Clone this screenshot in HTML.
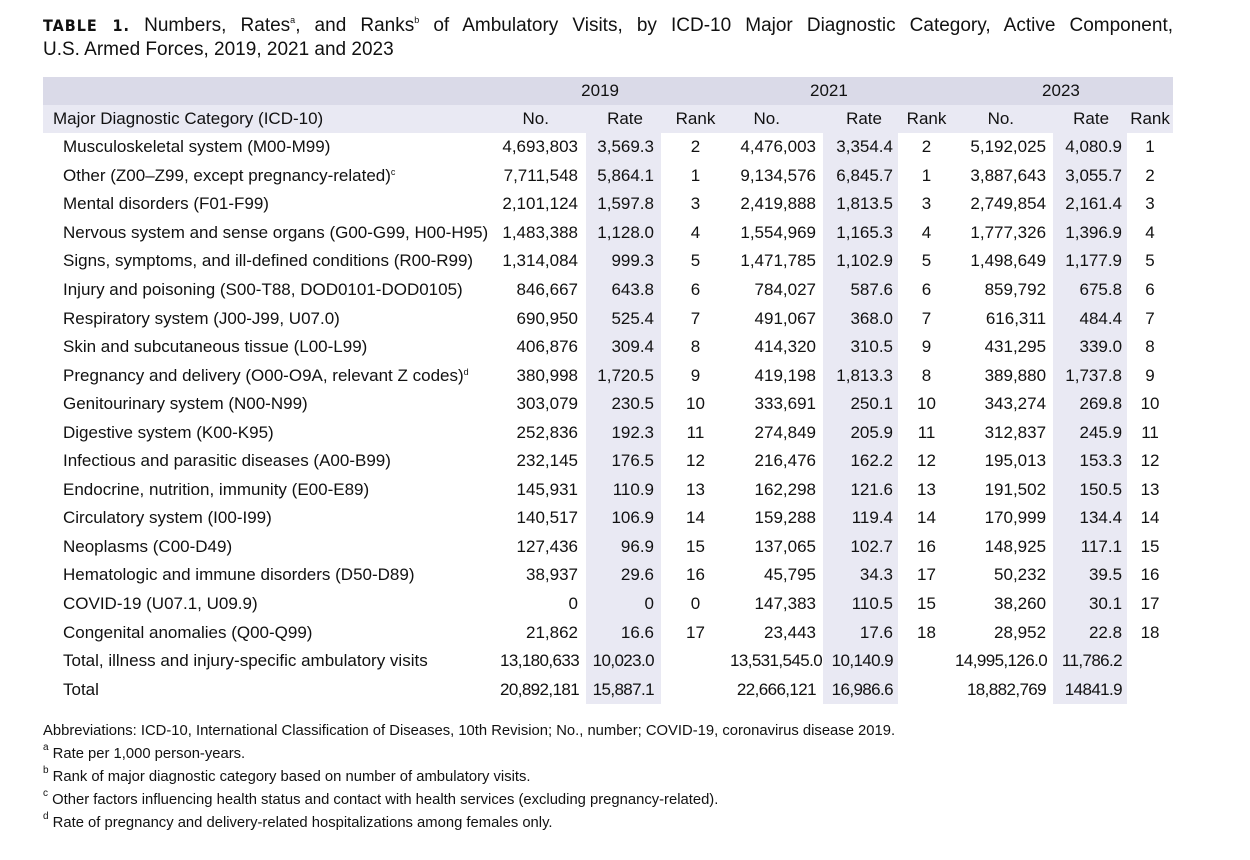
<!DOCTYPE html>
<html><head><meta charset="utf-8"><style>
body{margin:0;width:1250px;height:860px;background:#fff;font-family:"Liberation Sans",Arial,sans-serif;color:#111;position:relative;overflow:hidden}
.title{position:absolute;left:43px;top:14px;width:1130px;font-size:19px;line-height:24px}
.title .l1{text-align:justify;text-align-last:justify;white-space:nowrap}
.title b{font-family:"DejaVu Sans Condensed","Liberation Sans Narrow",sans-serif;font-weight:bold;letter-spacing:1px;font-size:16px}
sup{font-size:9px;vertical-align:top;line-height:9px;position:relative;top:2px}
table{position:absolute;left:43px;top:77px;border-collapse:collapse;table-layout:fixed;width:1130px;font-size:17px}
td{padding:0;height:28.55px;white-space:nowrap;text-align:right}
tr.h1 td{background:#dadae8;height:28px;text-align:center}
tr.h2 td{background:#e9e9f3;height:28px}
td.c{text-align:left;padding-left:20px}
tr.h2 td.c{padding-left:10px}
.r{background:#e9e9f3}
.k{text-align:center}
.n1{padding-right:8px}.r1{padding-right:7px}.n2{padding-right:7px}.r2{padding-right:5px}.n3{padding-right:7px}.r3{padding-right:5px}
tr.t td{letter-spacing:-0.6px}
tr.t td.c{letter-spacing:0}
.foot{position:absolute;left:43px;top:720px;font-size:14.8px;line-height:23px}
.foot sup{font-size:10px;top:0}
</style></head><body>
<div class="title"><div class="l1"><b>TABLE 1.</b> Numbers, Rates<sup>a</sup>, and Ranks<sup>b</sup> of Ambulatory Visits, by ICD-10 Major Diagnostic Category, Active Component,</div><div>U.S. Armed Forces, 2019, 2021 and 2023</div></div>
<table>
<colgroup><col style="width:457px"><col style="width:86px"><col style="width:75px"><col style="width:69px"><col style="width:93px"><col style="width:75px"><col style="width:57px"><col style="width:98px"><col style="width:74px"><col style="width:46px"></colgroup>
<tr class="h1"><td></td><td colspan="3" style="padding-right:111px;text-align:right">2019</td><td colspan="3" style="text-align:left;padding-left:80px">2021</td><td colspan="3" style="text-align:left;padding-left:87px">2023</td></tr>
<tr class="h2"><td class="c">Major Diagnostic Category (ICD-10)</td><td style="padding-right:37px">No.</td><td style="padding-right:18px">Rate</td><td class="k">Rank</td><td style="padding-right:43px">No.</td><td style="padding-right:16px">Rate</td><td class="k">Rank</td><td style="padding-right:39px">No.</td><td style="padding-right:18px">Rate</td><td class="k">Rank</td></tr>
<tr><td class="c">Musculoskeletal system (M00-M99)</td><td class="n1">4,693,803</td><td class="r r1">3,569.3</td><td class="k">2</td><td class="n2">4,476,003</td><td class="r r2">3,354.4</td><td class="k">2</td><td class="n3">5,192,025</td><td class="r r3">4,080.9</td><td class="k">1</td></tr>
<tr><td class="c">Other (Z00–Z99, except pregnancy-related)<sup>c</sup></td><td class="n1">7,711,548</td><td class="r r1">5,864.1</td><td class="k">1</td><td class="n2">9,134,576</td><td class="r r2">6,845.7</td><td class="k">1</td><td class="n3">3,887,643</td><td class="r r3">3,055.7</td><td class="k">2</td></tr>
<tr><td class="c">Mental disorders (F01-F99)</td><td class="n1">2,101,124</td><td class="r r1">1,597.8</td><td class="k">3</td><td class="n2">2,419,888</td><td class="r r2">1,813.5</td><td class="k">3</td><td class="n3">2,749,854</td><td class="r r3">2,161.4</td><td class="k">3</td></tr>
<tr><td class="c">Nervous system and sense organs (G00-G99, H00-H95)</td><td class="n1">1,483,388</td><td class="r r1">1,128.0</td><td class="k">4</td><td class="n2">1,554,969</td><td class="r r2">1,165.3</td><td class="k">4</td><td class="n3">1,777,326</td><td class="r r3">1,396.9</td><td class="k">4</td></tr>
<tr><td class="c">Signs, symptoms, and ill-defined conditions (R00-R99)</td><td class="n1">1,314,084</td><td class="r r1">999.3</td><td class="k">5</td><td class="n2">1,471,785</td><td class="r r2">1,102.9</td><td class="k">5</td><td class="n3">1,498,649</td><td class="r r3">1,177.9</td><td class="k">5</td></tr>
<tr><td class="c">Injury and poisoning (S00-T88, DOD0101-DOD0105)</td><td class="n1">846,667</td><td class="r r1">643.8</td><td class="k">6</td><td class="n2">784,027</td><td class="r r2">587.6</td><td class="k">6</td><td class="n3">859,792</td><td class="r r3">675.8</td><td class="k">6</td></tr>
<tr><td class="c">Respiratory system (J00-J99, U07.0)</td><td class="n1">690,950</td><td class="r r1">525.4</td><td class="k">7</td><td class="n2">491,067</td><td class="r r2">368.0</td><td class="k">7</td><td class="n3">616,311</td><td class="r r3">484.4</td><td class="k">7</td></tr>
<tr><td class="c">Skin and subcutaneous tissue (L00-L99)</td><td class="n1">406,876</td><td class="r r1">309.4</td><td class="k">8</td><td class="n2">414,320</td><td class="r r2">310.5</td><td class="k">9</td><td class="n3">431,295</td><td class="r r3">339.0</td><td class="k">8</td></tr>
<tr><td class="c">Pregnancy and delivery (O00-O9A, relevant Z codes)<sup>d</sup></td><td class="n1">380,998</td><td class="r r1">1,720.5</td><td class="k">9</td><td class="n2">419,198</td><td class="r r2">1,813.3</td><td class="k">8</td><td class="n3">389,880</td><td class="r r3">1,737.8</td><td class="k">9</td></tr>
<tr><td class="c">Genitourinary system (N00-N99)</td><td class="n1">303,079</td><td class="r r1">230.5</td><td class="k">10</td><td class="n2">333,691</td><td class="r r2">250.1</td><td class="k">10</td><td class="n3">343,274</td><td class="r r3">269.8</td><td class="k">10</td></tr>
<tr><td class="c">Digestive system (K00-K95)</td><td class="n1">252,836</td><td class="r r1">192.3</td><td class="k">11</td><td class="n2">274,849</td><td class="r r2">205.9</td><td class="k">11</td><td class="n3">312,837</td><td class="r r3">245.9</td><td class="k">11</td></tr>
<tr><td class="c">Infectious and parasitic diseases (A00-B99)</td><td class="n1">232,145</td><td class="r r1">176.5</td><td class="k">12</td><td class="n2">216,476</td><td class="r r2">162.2</td><td class="k">12</td><td class="n3">195,013</td><td class="r r3">153.3</td><td class="k">12</td></tr>
<tr><td class="c">Endocrine, nutrition, immunity (E00-E89)</td><td class="n1">145,931</td><td class="r r1">110.9</td><td class="k">13</td><td class="n2">162,298</td><td class="r r2">121.6</td><td class="k">13</td><td class="n3">191,502</td><td class="r r3">150.5</td><td class="k">13</td></tr>
<tr><td class="c">Circulatory system (I00-I99)</td><td class="n1">140,517</td><td class="r r1">106.9</td><td class="k">14</td><td class="n2">159,288</td><td class="r r2">119.4</td><td class="k">14</td><td class="n3">170,999</td><td class="r r3">134.4</td><td class="k">14</td></tr>
<tr><td class="c">Neoplasms (C00-D49)</td><td class="n1">127,436</td><td class="r r1">96.9</td><td class="k">15</td><td class="n2">137,065</td><td class="r r2">102.7</td><td class="k">16</td><td class="n3">148,925</td><td class="r r3">117.1</td><td class="k">15</td></tr>
<tr><td class="c">Hematologic and immune disorders (D50-D89)</td><td class="n1">38,937</td><td class="r r1">29.6</td><td class="k">16</td><td class="n2">45,795</td><td class="r r2">34.3</td><td class="k">17</td><td class="n3">50,232</td><td class="r r3">39.5</td><td class="k">16</td></tr>
<tr><td class="c">COVID-19 (U07.1, U09.9)</td><td class="n1">0</td><td class="r r1">0</td><td class="k">0</td><td class="n2">147,383</td><td class="r r2">110.5</td><td class="k">15</td><td class="n3">38,260</td><td class="r r3">30.1</td><td class="k">17</td></tr>
<tr><td class="c">Congenital anomalies (Q00-Q99)</td><td class="n1">21,862</td><td class="r r1">16.6</td><td class="k">17</td><td class="n2">23,443</td><td class="r r2">17.6</td><td class="k">18</td><td class="n3">28,952</td><td class="r r3">22.8</td><td class="k">18</td></tr>
<tr class="t"><td class="c">Total, illness and injury-specific ambulatory visits</td><td class="n1">13,180,633</td><td class="r r1">10,023.0</td><td class="k"></td><td class="n2">13,531,545.0</td><td class="r r2">10,140.9</td><td class="k"></td><td class="n3">14,995,126.0</td><td class="r r3">11,786.2</td><td class="k"></td></tr>
<tr class="t"><td class="c">Total</td><td class="n1">20,892,181</td><td class="r r1">15,887.1</td><td class="k"></td><td class="n2">22,666,121</td><td class="r r2">16,986.6</td><td class="k"></td><td class="n3">18,882,769</td><td class="r r3">14841.9</td><td class="k"></td></tr>
</table>
<div class="foot">
<div>Abbreviations: ICD-10, International Classification of Diseases, 10th Revision; No., number; COVID-19, coronavirus disease 2019.</div>
<div><sup>a</sup> Rate per 1,000 person-years.</div>
<div><sup>b</sup> Rank of major diagnostic category based on number of ambulatory visits.</div>
<div><sup>c</sup> Other factors influencing health status and contact with health services (excluding pregnancy-related).</div>
<div><sup>d</sup> Rate of pregnancy and delivery-related hospitalizations among females only.</div>
</div>
</body></html>
